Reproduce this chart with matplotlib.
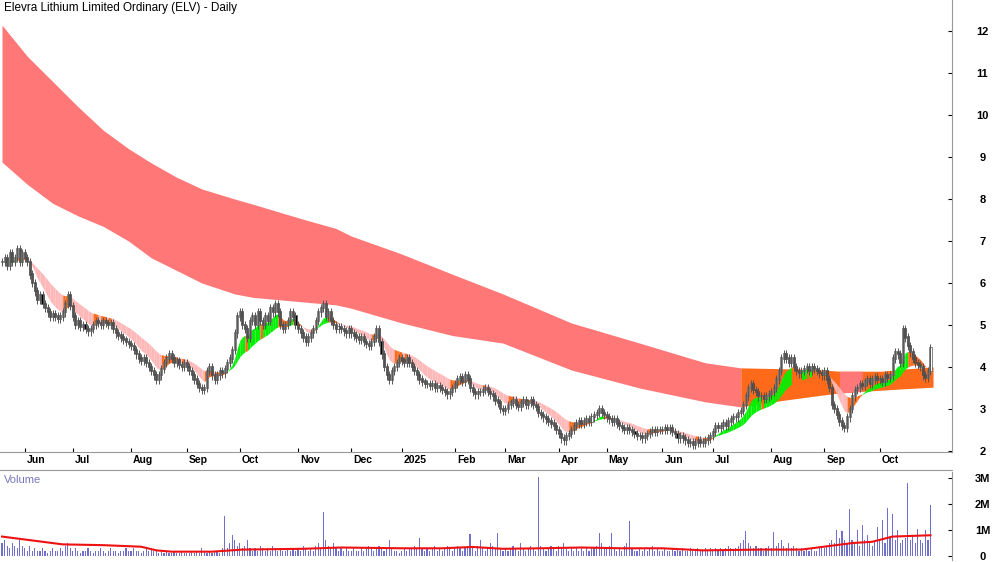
import numpy as np, pandas as pd
import matplotlib; matplotlib.use("Agg")
import matplotlib.pyplot as plt
import matplotlib.transforms as mt

plt.rcParams["font.family"] = ["Liberation Sans", "DejaVu Sans"]

TITLE = "Elevra Lithium Limited Ordinary (ELV) - Daily"
MONTHS = ["May", "Jun", "Jul", "Aug", "Sep", "Oct", "Nov", "Dec", "2025", "Feb", "Mar",
          "Apr", "May", "Jun", "Jul", "Aug", "Sep", "Oct"]

# daily closes per month (late May 2024 .. Oct 2025)
closes_m = [
    [6.5, 6.6, 6.4, 6.7, 6.5, 6.6, 6.8, 6.5, 6.7],
    [6.6, 6.5, 6.2, 6.0, 5.8, 5.6, 5.7, 5.5, 5.4, 5.3, 5.2, 5.25, 5.2, 5.15, 5.2, 5.3, 5.5, 5.7, 5.45],
    [5.2, 5.0, 5.1, 4.95, 5.0, 4.9, 4.85, 4.9, 5.0, 5.1, 5.05, 5.0, 5.1, 5.05, 5.0, 5.05, 4.9, 4.8, 4.75, 4.7, 4.65, 4.6, 4.55],
    [4.5, 4.4, 4.3, 4.2, 4.15, 4.2, 4.1, 4.0, 3.9, 3.8, 3.7, 3.8, 3.95, 4.1, 4.2, 4.3, 4.2, 4.1, 4.15, 4.05, 4.0, 4.1],
    [4.0, 3.9, 3.8, 3.7, 3.6, 3.5, 3.45, 3.5, 3.9, 4.0, 3.8, 3.7, 3.8, 3.9, 3.85, 3.95, 4.1, 4.2, 4.4, 4.8, 5.2],
    [5.3, 5.0, 4.9, 4.7, 5.1, 5.2, 5.0, 5.3, 5.1, 5.0, 5.2, 5.1, 5.4, 5.3, 5.5, 5.3, 5.0, 4.9, 5.0, 5.1, 5.3, 5.2, 5.0],
    [4.9, 4.8, 4.7, 4.6, 4.7, 4.8, 4.9, 5.1, 5.3, 5.4, 5.5, 5.2, 5.3, 5.1, 5.0, 4.9, 4.95, 4.9, 4.85, 4.8, 4.9],
    [4.8, 4.75, 4.7, 4.65, 4.7, 4.6, 4.55, 4.5, 4.6, 4.7, 4.9, 4.6, 4.3, 4.0, 3.8, 3.7, 3.9, 4.0, 4.1, 4.2],
    [4.15, 4.1, 4.2, 4.1, 4.0, 3.9, 3.8, 3.7, 3.65, 3.6, 3.6, 3.55, 3.6, 3.5, 3.55, 3.5, 3.45, 3.4, 3.35, 3.4, 3.5],
    [3.6, 3.7, 3.75, 3.65, 3.8, 3.7, 3.5, 3.4, 3.35, 3.4, 3.4, 3.45, 3.5, 3.4, 3.35, 3.3, 3.2, 3.15, 3.0, 2.95],
    [3.0, 3.1, 3.15, 3.2, 3.1, 3.05, 3.15, 3.2, 3.1, 3.15, 3.2, 3.1, 3.05, 2.9, 2.85, 2.8, 2.75, 2.7, 2.65, 2.6, 2.5],
    [2.4, 2.3, 2.25, 2.35, 2.4, 2.5, 2.6, 2.65, 2.7, 2.65, 2.7, 2.75, 2.7, 2.8, 2.85, 2.9, 3.0, 2.9, 2.85],
    [2.8, 2.75, 2.7, 2.75, 2.65, 2.6, 2.55, 2.5, 2.55, 2.5, 2.45, 2.4, 2.35, 2.35, 2.3, 2.35, 2.4, 2.45, 2.5, 2.45, 2.5, 2.5],
    [2.5, 2.55, 2.5, 2.55, 2.45, 2.4, 2.3, 2.35, 2.3, 2.25, 2.2, 2.2, 2.15, 2.2, 2.25, 2.2, 2.2, 2.25, 2.3, 2.35],
    [2.45, 2.6, 2.55, 2.6, 2.65, 2.6, 2.7, 2.75, 2.8, 2.8, 2.9, 2.95, 3.1, 3.3, 3.5, 3.6, 3.45, 3.4, 3.3, 3.3, 3.25, 3.3, 3.35],
    [3.4, 3.5, 3.7, 3.9, 4.2, 4.3, 4.2, 4.1, 4.2, 4.0, 3.9, 3.85, 3.9, 3.95, 4.0, 3.9, 4.0, 3.95, 3.9, 3.85, 3.8],
    [3.9, 3.7, 3.5, 3.1, 3.0, 2.85, 2.7, 2.6, 2.55, 2.8, 3.0, 3.3, 3.45, 3.5, 3.6, 3.55, 3.65, 3.7, 3.6, 3.7, 3.75, 3.7],
    [3.7, 3.65, 3.8, 3.75, 3.8, 4.2, 4.35, 4.3, 4.1, 4.9, 4.7, 4.5, 4.35, 4.2, 4.1, 4.05, 4.0, 3.8, 3.75, 3.9, 4.45],
]
# daily volume per month, units of 100k shares
vols_m = [
    [5, 6, 4, 3, 5, 4, 3, 6, 4],
    [3, 2, 4, 2, 3, 2, 2, 3, 2, 1, 2, 3, 2, 2, 3, 2, 4, 5, 3],
    [2, 3, 2, 1, 2, 2, 3, 2, 1, 2, 2, 3, 2, 1, 2, 3, 2, 2, 1, 2, 2, 3, 2],
    [2, 3, 2, 2, 1, 2, 3, 2, 3, 2, 2, 1, 2, 1, 2, 1, 1, 2, 1, 1, 2, 1],
    [1, 1, 2, 1, 2, 1, 3, 2, 1, 2, 1, 2, 2, 1, 3, 15.5, 3, 5, 8, 6, 4],
    [5, 3, 4, 6, 3, 2, 3, 2, 4, 3, 2, 3, 2, 4, 3, 2, 3, 2, 2, 3, 2, 3, 2],
    [3, 2, 4, 3, 2, 3, 2, 4, 5, 3, 17, 6, 4, 3, 5, 3, 2, 3, 2, 3, 2],
    [2, 3, 2, 2, 3, 2, 3, 4, 3, 2, 3, 4, 3, 2, 3, 6, 3, 2, 2, 1],
    [2, 3, 2, 3, 3, 4, 3, 7, 3, 2, 3, 2, 3, 4, 2, 3, 2, 3, 4, 3, 2],
    [3, 4, 3, 2, 3, 4, 8.5, 3, 2, 4, 6, 3, 2, 3, 5, 4, 3, 9, 3, 2],
    [3, 2, 3, 4, 3, 2, 5, 3, 2, 3, 4, 3, 2, 30.5, 4, 3, 2, 3, 4, 3, 2],
    [4, 3, 5, 3, 2, 3, 2, 3, 2, 3, 2, 3, 2, 3, 3, 4, 9, 5, 3],
    [3, 4, 9, 3, 2, 3, 2, 4, 5, 13.5, 3, 2, 2, 3, 2, 3, 2, 3, 4, 2, 3, 2],
    [2, 3, 2, 2, 3, 2, 3, 2, 3, 2, 2, 3, 2, 2, 3, 2, 2, 3, 2, 3],
    [2, 3, 2, 3, 2, 3, 4, 3, 2, 3, 4, 5, 6, 9.5, 5, 4, 3, 4, 3, 3, 2, 3, 4],
    [3, 9.2, 4, 5, 6, 4, 3, 5, 3, 4, 3, 2, 3, 2, 3, 2, 3, 2, 2, 3, 3],
    [3, 4, 5, 6, 5, 10, 7, 9.5, 6, 5, 18, 6, 5, 10, 4, 12, 6, 8, 5, 4, 6, 11],
    [6, 14, 5, 18.5, 7, 16, 6, 10, 5, 6, 7, 28, 6, 8, 5, 10.5, 6, 5, 10, 6, 19.5],
]

# long-term ribbon edges at bar positions
long_x   = [0, 10, 20, 30, 40, 50, 59, 69, 79, 92, 99, 119, 132, 138, 158, 178, 198, 225, 252, 278, 292]
long_top = [12.14, 11.4, 10.8, 10.2, 9.64, 9.2, 8.86, 8.52, 8.24, 8.0, 7.88, 7.52, 7.3, 7.12, 6.69, 6.21, 5.74, 5.05, 4.57, 4.1, 3.98]
long_bot = [8.88, 8.35, 7.9, 7.6, 7.35, 7.0, 6.6, 6.3, 6.0, 5.74, 5.66, 5.55, 5.48, 5.4, 5.05, 4.75, 4.57, 3.93, 3.5, 3.17, 3.05]
# rising (orange) part of the ribbon, with a brief falling patch in Sep 2025
rise_x   = [292, 308, 324, 331, 340, 348, 356, 368]
rise_top = [3.98, 3.96, 3.93, 3.9, 3.9, 3.9, 3.95, 4.0]
rise_bot = [3.05, 3.2, 3.33, 3.38, 3.42, 3.45, 3.48, 3.52]
fall_span = (331, 340)

# volume average line
vma_x = [0, 8, 16, 24, 40, 55, 61, 67, 83, 95, 119, 134, 158, 174, 186, 198, 213, 229, 245,
         261, 277, 300, 316, 324, 336, 344, 352, 367]
vma_y = [0.75, 0.65, 0.55, 0.45, 0.42, 0.36, 0.22, 0.17, 0.17, 0.25, 0.28, 0.33, 0.3, 0.3, 0.35,
         0.28, 0.3, 0.33, 0.3, 0.3, 0.22, 0.25, 0.25, 0.35, 0.5, 0.55, 0.75, 0.8]

close = np.array([c for m in closes_m for c in m])
vol = np.array([v for m in vols_m for v in m]) / 10.0
n = len(close)
idx = np.arange(n)
month_start = np.cumsum([0] + [len(m) for m in closes_m])[:-1]

opn = np.r_[close[0], close[:-1]]
hi = np.maximum(opn, close) + 0.1
lo = np.minimum(opn, close) - 0.1
s = pd.Series(close)
fast = s.ewm(span=8, adjust=False).mean().values
slow = s.ewm(span=22, adjust=False).mean().values

fig = plt.figure(figsize=(10, 5.62), dpi=100)
ax = fig.add_axes([0, 1 - 452 / 562, 0.952, 452 / 562])
axv = fig.add_axes([0, 2 / 562, 0.952, 88 / 562])

RED, ORANGE, GREEN, PINK = "#FF7777", "#FF6A1A", "#00F000", "#FFB8B8"
ax.fill_between(long_x, long_bot, long_top, color=RED, lw=0)
ax.fill_between(rise_x, rise_bot, rise_top, color=ORANGE, lw=0)
fx = np.linspace(*fall_span, 20)
ax.fill_between(fx, np.interp(fx, rise_x, rise_bot), np.interp(fx, rise_x, rise_top), color=RED, lw=0)

for i in range(n - 1):
    up = fast[i + 1] > slow[i + 1]
    rising = fast[i + 1] >= fast[i]
    col = GREEN if (up and rising) else PINK if (not up and not rising) else ORANGE
    ax.fill_between([i, i + 1], [min(fast[i], slow[i]), min(fast[i + 1], slow[i + 1])],
                    [max(fast[i], slow[i]), max(fast[i + 1], slow[i + 1])], color=col, lw=0)

upb = close >= opn
ax.vlines(idx, lo, hi, color="#555555", lw=0.7)
ax.bar(idx, np.abs(close - opn) + 0.03, 0.8, np.minimum(opn, close),
       color=np.where(upb, "white", "black"), edgecolor="#555555", lw=0.5)

ax.set_xlim(-0.8, 375.5)
ax.set_ylim(1.976, 12.74)
ax.yaxis.tick_right()
ax.set_yticks(range(2, 13))
ax.tick_params(axis="y", direction="in", length=3, pad=22, labelsize=8)
for t in ax.get_yticklabels():
    t.set_fontweight("bold"); t.set_ha("center")
ax.set_xticks(month_start[1:])
ax.set_xticklabels(MONTHS[1:], ha="left", fontsize=7.5, fontweight="bold")
ax.tick_params(axis="x", direction="in", length=3, pad=2)
off = mt.ScaledTranslation(2 / 100, 0, fig.dpi_scale_trans)
for lab in ax.get_xticklabels():
    lab.set_transform(lab.get_transform() + off)
for sp in ["top", "left"]:
    ax.spines[sp].set_visible(False)
ax.spines["bottom"].set_color("#999999")
ax.spines["right"].set_color("#999999")
ax.text(0.004, 0.995, TITLE, transform=ax.transAxes, fontsize=8.5, va="top")

axv.bar(idx, vol, 0.45, color="#7070CC", lw=0)
axv.plot(vma_x, vma_y, color="#EE1111", lw=1.5)
axv.set_xlim(-0.8, 375.5)
axv.set_ylim(-0.15, 3.23)
axv.yaxis.tick_right()
axv.set_yticks([0, 1, 2, 3])
axv.set_yticklabels(["0", "1M", "2M", "3M"], fontsize=8, fontweight="bold", ha="center")
axv.tick_params(axis="y", direction="in", length=3, pad=22)
axv.set_xticks([])
for sp in ["top", "left", "bottom"]:
    axv.spines[sp].set_visible(False)
axv.spines["right"].set_color("#999999")
axv.text(0.004, 0.97, "Volume", transform=axv.transAxes, fontsize=8, color="#7777BB", va="top")
fig.add_artist(plt.Line2D([0, 0.952], [1 - 470 / 562] * 2, color="#999999", lw=0.8))

fig.savefig("out.png", dpi=100, facecolor="white")
